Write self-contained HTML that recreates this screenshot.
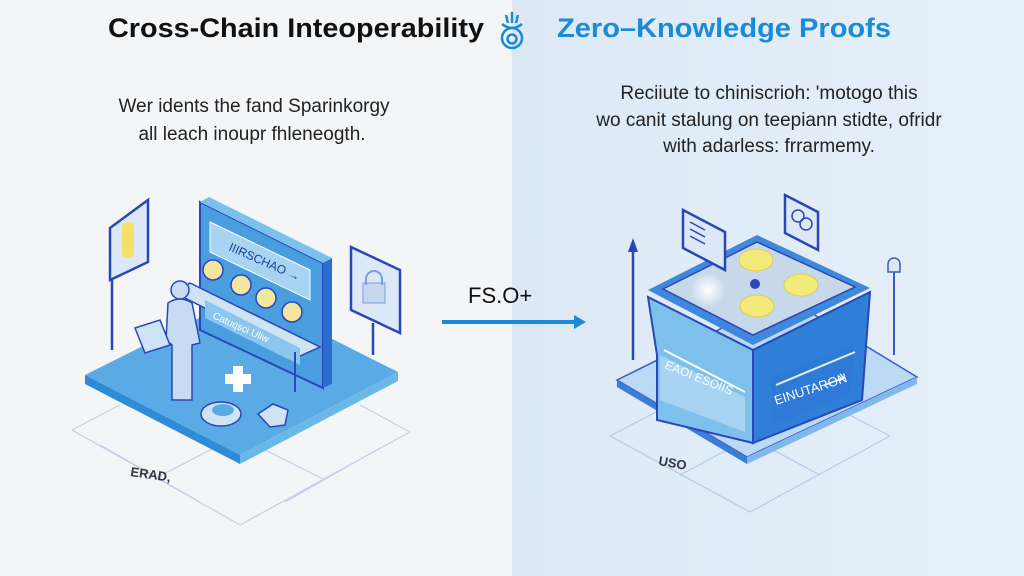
<!DOCTYPE html>
<html><head><meta charset="utf-8"><style>
body{margin:0;width:1024px;height:576px;overflow:hidden;font-family:"Liberation Sans",sans-serif}
svg{display:block}
</style></head><body>
<svg width="1024" height="576" viewBox="0 0 1024 576">
<defs>
<linearGradient id="bgR" x1="0" x2="1"><stop offset="0" stop-color="#dce9f5"/><stop offset="1" stop-color="#e6f0f9"/></linearGradient>
<radialGradient id="glow"><stop offset="0" stop-color="#fff"/><stop offset="1" stop-color="#fff" stop-opacity="0"/></radialGradient>
</defs>
<rect width="512" height="576" fill="#f3f5f7"/>
<rect x="512" width="512" height="576" fill="url(#bgR)"/>
<text x="108" y="37" font-weight="bold" font-size="27" fill="#111" textLength="376" lengthAdjust="spacingAndGlyphs">Cross-Chain Inteoperability</text>
<text x="557" y="37" font-weight="bold" font-size="27" fill="#1b8ad8" textLength="334" lengthAdjust="spacingAndGlyphs">Zero–Knowledge Proofs</text>
<g stroke="#1b8ad8" stroke-width="2.5" fill="none">
<circle cx="512" cy="38" r="10"/><circle cx="512" cy="39" r="4.5"/>
<path d="M502 24 q10 8 20 0 M506 15 l2 8 M512 12 v11 M518 15 l-2 8"/>
</g>
<g font-size="19" fill="#222" text-anchor="middle">
<text x="254" y="112">Wer idents the fand Sparinkorgy</text>
<text x="252" y="140">all leach inoupr fhleneogth.</text>
<text x="769" y="99">Reciiute to chiniscrioh: 'motogo this</text>
<text x="769" y="126">wo canit stalung on teepiann stidte, ofridr</text>
<text x="769" y="152">with adarless: frrarmemy.</text>
</g>
<text x="468" y="303" font-size="22" fill="#111">FS.O+</text>
<line x1="442" y1="322" x2="577" y2="322" stroke="#1b8ad8" stroke-width="4"/>
<path d="M574 315 L586 322 L574 329 Z" fill="#1b8ad8"/>
<!-- left grid -->
<g stroke="#c3cfe6" stroke-width="1.2" fill="none">
<path d="M72 430 L240 525 L410 432 M72 430 L120 405 M410 432 L360 405 M156 478 L330 388 M325 480 L150 392 M200 502 L100 445 M285 502 L380 448"/>
</g>
<text x="130" y="476" font-size="13" font-weight="bold" fill="#334" transform="rotate(8 130 476)">ERAD,</text>
<path d="M85 375 L245 295 L398 372 L240 455 Z" fill="#5aaae6"/>
<path d="M85 375 L240 455 L240 464 L85 384 Z" fill="#2f8ad8"/>
<path d="M240 455 L398 372 L398 381 L240 464 Z" fill="#6ab8ea"/>
<line x1="112" y1="272" x2="112" y2="350" stroke="#2a47b8" stroke-width="2.5"/>
<path d="M110 228 L148 200 L148 262 L110 280 Z" fill="#dce8f7" stroke="#2a47b8" stroke-width="2.5"/>
<rect x="122" y="222" width="12" height="36" rx="5" fill="#f5e06a"/>
<line x1="373" y1="323" x2="373" y2="355" stroke="#2a47b8" stroke-width="2.5"/>
<path d="M351 247 L400 270 L400 333 L351 310 Z" fill="#dce8f7" stroke="#2a47b8" stroke-width="2.5"/>
<rect x="363" y="283" width="22" height="20" fill="#c5d8f0" stroke="#7aa0d8"/>
<path d="M366 285 v-6 a8 8 0 0 1 16 0 v6" fill="none" stroke="#7aa0d8" stroke-width="2"/>
<path d="M200 202 L323 263 L323 388 L200 330 Z" fill="#4a9ee0" stroke="#2a47b8" stroke-width="2"/>
<path d="M323 263 L332 258 L332 384 L323 388 Z" fill="#2a6fd0"/>
<path d="M200 202 L209 197 L332 258 L323 263 Z" fill="#7cc0ee"/>
<path d="M210 222 L310 270 L310 300 L210 252 Z" fill="#a7d4f3" stroke="#fff"/>
<text x="228" y="250" font-size="12" fill="#1f3d99" transform="rotate(24 228 250)">IIIRSCHAO →</text>
<g fill="#f2e6a0" stroke="#2a47b8" stroke-width="1.5">
<circle cx="213" cy="270" r="10"/><circle cx="241" cy="285" r="10"/><circle cx="266" cy="298" r="10"/><circle cx="292" cy="312" r="10"/>
</g>
<path d="M190 283 L320 347 L300 356 L175 293 Z" fill="#cfe3f6" stroke="#2a47b8" stroke-width="1.5"/>
<path d="M205 300 L300 348 L300 365 L205 318 Z" fill="#8ac6ee"/>
<text x="212" y="318" font-size="10" fill="#fff" transform="rotate(24 212 318)">Catuqsci Uliw</text>
<line x1="295" y1="352" x2="295" y2="392" stroke="#2a47b8" stroke-width="2"/>
<!-- person -->
<circle cx="180" cy="290" r="9" fill="#c7dcf2" stroke="#2a47b8" stroke-width="1.5"/>
<path d="M168 303 q12 -8 24 0 l8 40 l-8 2 l0 55 l-20 0 l0 -55 l-6 -5 Z" fill="#c7dcf2" stroke="#2a47b8" stroke-width="1.5"/>
<path d="M233 366 h10 v8 h8 v10 h-8 v8 h-10 v-8 h-8 v-10 h8 Z" fill="#fff"/>
<ellipse cx="221" cy="414" rx="20" ry="12" fill="#cfe3f6" stroke="#2a47b8" stroke-width="1.5"/>
<ellipse cx="223" cy="410" rx="11" ry="6" fill="#5aaae6"/>
<path d="M258 414 l15 -10 l15 6 l-3 15 l-15 2 Z" fill="#cfe3f6" stroke="#2a47b8" stroke-width="1.5"/>
<path d="M135 328 l25 -8 l10 25 l-25 8 Z" fill="#cfe3f6" stroke="#2a47b8" stroke-width="1.5"/>
<!-- right grid -->
<g stroke="#b8c8e8" stroke-width="1.2" fill="none">
<path d="M610 436 L750 512 L890 436 M610 436 L660 410 M890 436 L840 410 M680 475 L830 395 M820 475 L670 395"/>
</g>
<text x="658" y="465" font-size="13" font-weight="bold" fill="#334" transform="rotate(10 658 465)">USO</text>
<path d="M617 380 L785 297 L917 377 L747 457 Z" fill="#bcdaf4" stroke="#3a5cc8" stroke-width="1.5"/>
<path d="M617 380 L747 457 L747 464 L617 387 Z" fill="#3a7ed8"/>
<path d="M747 457 L917 377 L917 384 L747 464 Z" fill="#7eb8ec"/>
<line x1="633" y1="250" x2="633" y2="360" stroke="#2a47b8" stroke-width="2.5"/>
<path d="M628 252 L633 238 L638 252 Z" fill="#2a47b8"/>
<line x1="894" y1="272" x2="894" y2="355" stroke="#3a5cc8" stroke-width="2"/>
<path d="M888 272 v-8 a6 6 0 0 1 12 0 v8 Z" fill="#dce9f5" stroke="#3a5cc8" stroke-width="1.5"/>
<path d="M648 297 L753 350 L753 443 L657 420 L657 355 Z" fill="#7ec0ec" stroke="#2a47b8" stroke-width="2"/>
<path d="M753 350 L870 292 L862 400 L753 443 Z" fill="#2f7fd8" stroke="#2a47b8" stroke-width="2"/>
<path d="M648 290 L757 235 L870 288 L753 345 Z" fill="#3f88dc"/>
<path d="M663 289 L757 242 L855 287 L753 335 Z" fill="#c7d8ea" stroke="#2a47b8" stroke-width="1.5"/>
<circle cx="708" cy="290" r="18" fill="url(#glow)"/>
<g fill="#f3ea7c" stroke="#e0cc50">
<ellipse cx="756" cy="260" rx="17" ry="11"/><ellipse cx="801" cy="285" rx="17" ry="11"/><ellipse cx="757" cy="306" rx="17" ry="11"/>
</g>
<circle cx="755" cy="284" r="5" fill="#2a47b8"/>
<path d="M660 355 L745 397 L745 432 L660 400 Z" fill="#a6d3f2"/>
<line x1="664" y1="350" x2="745" y2="392" stroke="#fff" stroke-width="2"/>
<text x="664" y="368" font-size="12" fill="#fff" transform="rotate(22 664 368)">EAOI ESOIIS</text>
<path d="M772 378 L855 345 L850 395 L772 425 Z" fill="#2e7ad6"/>
<line x1="776" y1="385" x2="855" y2="352" stroke="#e6f0fb" stroke-width="2"/>
<text x="776" y="405" font-size="13" fill="#fff" transform="rotate(-18 776 405)">EINUTARON</text>
<path d="M825 385 l18 -7 M840 374 l4 4 l-5 3" stroke="#fff" stroke-width="1.5" fill="none"/>
<path d="M683 210 L725 232 L725 270 L683 248 Z" fill="#dce8f7" stroke="#2a47b8" stroke-width="2.5"/>
<g stroke="#2a47b8" stroke-width="1.5"><line x1="690" y1="222" x2="705" y2="230"/><line x1="690" y1="229" x2="705" y2="237"/><line x1="690" y1="236" x2="705" y2="244"/></g>
<path d="M785 195 L818 212 L818 250 L785 233 Z" fill="#dce8f7" stroke="#2a47b8" stroke-width="2.5"/>
<circle cx="798" cy="216" r="6" fill="none" stroke="#2a47b8" stroke-width="1.5"/><circle cx="806" cy="224" r="6" fill="none" stroke="#2a47b8" stroke-width="1.5"/>
</svg>
</body></html>
